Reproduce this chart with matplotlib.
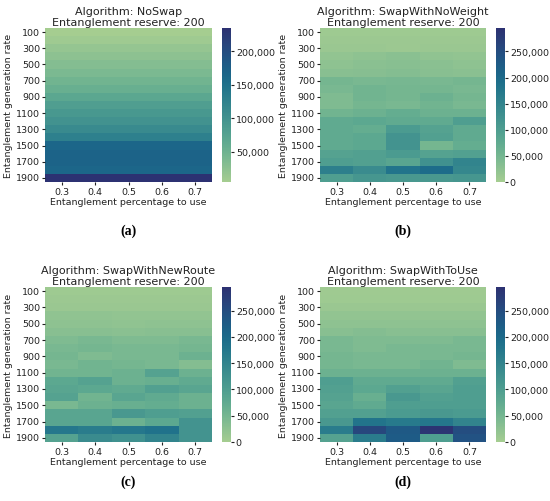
import numpy as np
import matplotlib
matplotlib.use("Agg")
import matplotlib.pyplot as plt
import matplotlib.ticker as mticker
import seaborn as sns

percentages = [0.3, 0.4, 0.5, 0.6, 0.7]
rates = [100, 200, 300, 400, 500, 600, 700, 800, 900, 1000,
         1100, 1200, 1300, 1400, 1500, 1600, 1700, 1800, 1900]

# values, thousands of entanglements
no_swap = [
    [5, 5, 5, 5, 5],
    [10, 10, 10, 10, 10],
    [18, 18, 18, 18, 18],
    [25, 25, 25, 25, 25],
    [32, 32, 32, 32, 32],
    [40, 40, 40, 40, 40],
    [48, 48, 48, 48, 48],
    [56, 56, 56, 56, 56],
    [68, 68, 68, 68, 68],
    [82, 82, 82, 82, 82],
    [92, 92, 92, 92, 92],
    [100, 100, 100, 100, 100],
    [112, 112, 112, 112, 112],
    [128, 128, 128, 128, 128],
    [165, 165, 165, 165, 165],
    [170, 170, 170, 170, 170],
    [170, 170, 170, 170, 170],
    [165, 165, 165, 165, 165],
    [235, 235, 235, 235, 235],
]
no_weight = [
    [8, 8, 8, 8, 8],
    [10, 10, 10, 10, 10],
    [12, 12, 10, 12, 12],
    [20, 25, 28, 22, 20],
    [25, 28, 30, 28, 25],
    [30, 32, 35, 30, 28],
    [50, 45, 48, 45, 50],
    [45, 55, 50, 50, 45],
    [40, 55, 50, 60, 50],
    [40, 50, 45, 55, 45],
    [55, 60, 70, 60, 60],
    [75, 80, 75, 75, 100],
    [75, 70, 105, 90, 75],
    [75, 80, 120, 95, 75],
    [75, 80, 120, 50, 70],
    [90, 95, 105, 90, 95],
    [100, 95, 85, 125, 150],
    [160, 135, 180, 195, 145],
    [100, 115, 110, 110, 115],
]
new_route = [
    [8, 8, 8, 8, 8],
    [10, 10, 10, 10, 10],
    [12, 12, 12, 12, 12],
    [22, 22, 20, 20, 20],
    [25, 25, 22, 25, 25],
    [30, 30, 28, 30, 30],
    [40, 45, 40, 40, 45],
    [45, 50, 45, 45, 50],
    [50, 40, 45, 45, 60],
    [45, 55, 50, 45, 35],
    [55, 55, 60, 90, 60],
    [80, 90, 60, 65, 75],
    [85, 80, 75, 95, 85],
    [90, 55, 85, 75, 60],
    [45, 60, 65, 70, 60],
    [85, 85, 110, 100, 95],
    [85, 85, 60, 80, 120],
    [175, 165, 175, 185, 120],
    [90, 135, 125, 150, 120],
]
to_use = [
    [6, 6, 6, 6, 6],
    [8, 8, 8, 8, 8],
    [12, 12, 12, 12, 12],
    [20, 20, 20, 20, 20],
    [25, 25, 25, 25, 25],
    [30, 35, 30, 30, 30],
    [45, 40, 40, 40, 45],
    [45, 40, 45, 45, 45],
    [50, 45, 45, 45, 50],
    [50, 45, 45, 55, 40],
    [60, 60, 60, 60, 60],
    [100, 75, 75, 75, 95],
    [95, 80, 95, 85, 100],
    [90, 65, 110, 95, 100],
    [85, 75, 100, 100, 100],
    [95, 95, 105, 110, 105],
    [110, 180, 170, 175, 150],
    [165, 260, 230, 290, 250],
    [90, 165, 225, 100, 240],
]

algorithms = ["NoSwap", "SwapWithNoWeight", "SwapWithNewRoute", "SwapWithToUse"]
datasets = [no_swap, no_weight, new_route, to_use]
captions = ["(a)", "(b)", "(c)", "(d)"]
shared_max = 295000

W, H = 550, 502
fig = plt.figure(figsize=(W / 100, H / 100), dpi=100)

# pixel boxes: heatmap left, top, right, bottom
boxes = [(45, 29, 212, 183), (320, 29, 486, 183),
         (45, 288, 212, 443), (320, 288, 486, 443)]

for i, (alg, vals, cap, box) in enumerate(zip(algorithms, datasets, captions, boxes)):
    l, t, r, b = box
    ax = fig.add_axes([l / W, 1 - b / H, (r - l) / W, (b - t) / H])
    cax = fig.add_axes([(r + 10) / W, 1 - b / H, 9 / W, (b - t) / H])
    arr = np.array(vals) * 1000
    if i == 0:
        vmin, vmax = None, None
    else:
        vmin, vmax = 0, shared_max
    sns.heatmap(arr, ax=ax, cbar_ax=cax, cmap="crest", vmin=vmin, vmax=vmax,
                xticklabels=percentages, yticklabels=rates)
    ax.set_yticks(np.arange(0, len(rates), 2) + 0.5)
    ax.set_yticklabels(rates[::2], rotation=0)
    ax.tick_params(labelsize=6.8, length=2.5, pad=1, colors="#222222")
    ax.set_xlabel("Entanglement percentage to use", fontsize=6.8, labelpad=1,
                  color="#222222")
    ax.set_ylabel("Entanglement generation rate", fontsize=6.8, labelpad=2,
                  color="#222222")
    ax.set_title(f"Algorithm: {alg}\nEntanglement reserve: 200", fontsize=8,
                 linespacing=1.1, pad=2, color="#222222")
    cax.yaxis.set_major_formatter(mticker.StrMethodFormatter("{x:,.0f}"))
    cax.tick_params(labelsize=6.8, length=2.5, pad=1, colors="#222222")
    if i == 0:
        cax.set_yticks([50000, 100000, 150000, 200000])
    else:
        cax.set_yticks([0, 50000, 100000, 150000, 200000, 250000])
    cy = 231 if i < 2 else 482
    fig.text(((l + r) / 2) / W, 1 - cy / H, cap, ha="center", va="center",
             fontsize=10, fontweight="bold", family="Liberation Serif")

fig.savefig("out.png", dpi=100, facecolor="white")
